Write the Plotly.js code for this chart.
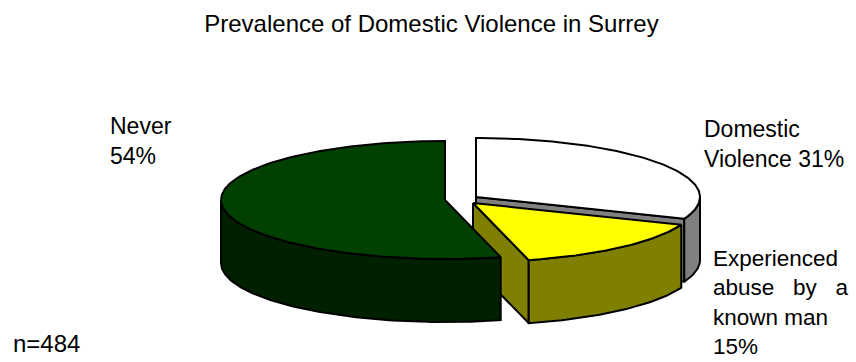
<!DOCTYPE html>
<html>
<head>
<meta charset="utf-8">
<script src="https://cdn.plot.ly/plotly-3.0.1.min.js"></script>
<style>html,body{margin:0;padding:0;background:#fff;}#chart{width:856px;height:362px;}</style>
</head>
<body>
<div id="chart"></div>
<script>
// ---- data ----
const categories = ['Domestic Violence', 'Experienced abuse by a known man', 'Never'];
const values = [31, 15, 54];
const labelTexts = ['Domestic<br>Violence 31%', 'Experienced<br>abuse   by   a<br>known man<br>15%', 'Never<br>54%'];
const titleText = 'Prevalence of Domestic Violence in Surrey';
const noteText = 'n=484';

// ---- style ----
const topColors = ['#FFFFFF', '#FFFF00', '#004000'];
const sideColors = ['#808080', '#808000', '#002000'];
const FONT = 'Liberation Sans, Arial, sans-serif';
const W = 856, H = 362;
const CX = 470, CY = 199, RX = 224, RY = 59, DEPTH = 63;
const explode = [[6, -2], [3, 4], [-25, 1]];
const labelPos = [[702, 144], [711, 302], [108, 141]];
const labelSize = [23, 22.5, 23];

const total = values.reduce((a, b) => a + b, 0);
const slices = [];
let acc = 0;
values.forEach((v, i) => {
  const a0 = acc / total * 360;
  acc += v;
  const a1 = acc / total * 360;
  slices.push({i, a0, a1, c: [CX + explode[i][0], CY + explode[i][1]]});
});

function pt(c, a, dy) {
  const r = a * Math.PI / 180;
  return [c[0] + RX * Math.sin(r), c[1] - RY * Math.cos(r) + (dy || 0)];
}
function arc(c, s, e, dy) {
  const pts = [];
  const n = Math.max(2, Math.ceil(Math.abs(e - s)));
  for (let k = 0; k <= n; k++) pts.push(pt(c, s + (e - s) * k / n, dy));
  return pts;
}
function poly(points, color) {
  const xs = points.map(p => p[0]), ys = points.map(p => p[1]);
  xs.push(xs[0]); ys.push(ys[0]);
  return {type: 'scatter', mode: 'lines', x: xs, y: ys, fill: 'toself', fillcolor: color,
    line: {color: '#000', width: 2}, hoverinfo: 'skip', showlegend: false};
}

const radials = [], sides = [], tops = [];
slices.forEach(s => {
  const c = s.c, i = s.i;
  [[s.a0, s.a0 - 90], [s.a1, s.a1 + 90]].forEach(([a, n]) => {
    if (Math.cos(n * Math.PI / 180) < -0.01) {
      const r = pt(c, a), rb = pt(c, a, DEPTH);
      radials.push(poly([c, r, rb, [c[0], c[1] + DEPTH]], sideColors[i]));
    }
  });
  const s0 = Math.max(s.a0, 90), s1 = Math.min(s.a1, 270);
  if (s1 > s0) {
    const topA = arc(c, s0, s1, 0), botA = arc(c, s1, s0, DEPTH);
    sides.push(poly(topA.concat(botA), sideColors[i]));
  }
  tops.push(poly([c].concat(arc(c, s.a0, s.a1, 0)), topColors[i]));
});

const traces = radials.concat(sides, tops);

const annotations = slices.map(s => ({
  x: labelPos[s.i][0], y: labelPos[s.i][1], xref: 'x', yref: 'y',
  text: labelTexts[s.i], showarrow: false, xanchor: 'left', yanchor: 'middle', align: 'left',
  font: {family: FONT, size: labelSize[s.i], color: '#000'}
}));
annotations.push({x: 11, y: 343, xref: 'x', yref: 'y', text: noteText, showarrow: false,
  xanchor: 'left', yanchor: 'middle', align: 'left', font: {family: FONT, size: 24, color: '#000'}});

const layout = {
  width: W, height: H,
  margin: {l: 0, r: 0, t: 0, b: 0, pad: 0},
  paper_bgcolor: '#fff', plot_bgcolor: '#fff',
  title: {text: titleText, x: 431.5 / W, xanchor: 'center', xref: 'paper', y: 1 - 24 / H, yref: 'container', yanchor: 'middle',
    font: {family: FONT, size: 24, color: '#000'}},
  xaxis: {range: [0, W], visible: false, fixedrange: true},
  yaxis: {range: [H, 0], visible: false, fixedrange: true},
  annotations: annotations,
  showlegend: false
};

Plotly.newPlot('chart', traces, layout, {staticPlot: true, displayModeBar: false});
</script>
</body>
</html>
